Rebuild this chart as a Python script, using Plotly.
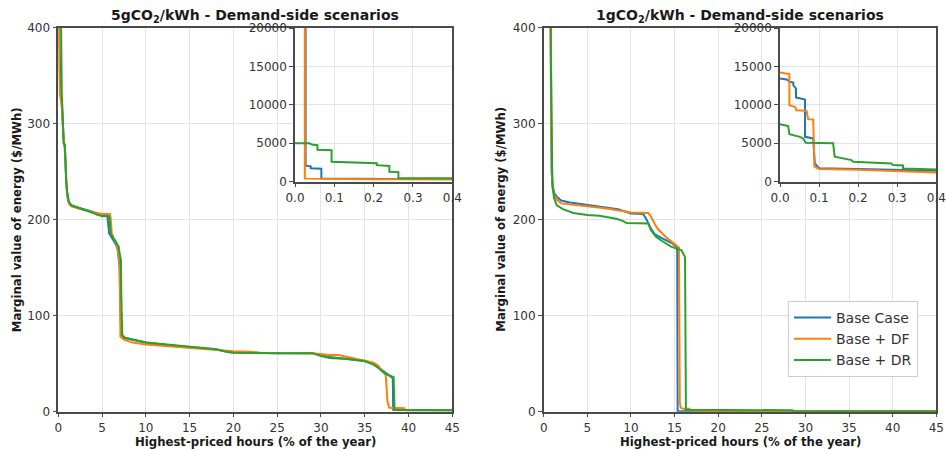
import plotly.graph_objects as go

# ---------------- data: 5 gCO2/kWh panel ----------------
l_base_x = [0, 0.027, 0.027, 0.04, 0.04, 0.067, 0.067, 0.13, 0.25, 0.4, 0.5, 0.6, 0.65, 0.75, 0.8, 0.9, 1.0, 1.1, 1.3, 1.7, 2.5, 4.0, 4.5, 5.6, 5.7, 5.8, 6.2, 6.6, 6.8, 6.9, 7.0, 7.1, 7.2, 7.5, 8.5, 10, 13, 16, 18, 19.5, 22, 25, 29, 30, 31, 33, 35, 36, 36.5, 37, 37.5, 38, 38.2, 38.25, 40, 45]
l_base_y = [30000, 30000, 2080, 2000, 1740, 1700, 420, 380, 340, 320, 300, 285, 278, 277, 262, 240, 228, 220, 216, 214, 212, 208, 205, 204, 195, 186, 180, 174, 168, 160, 150, 110, 80, 77, 75, 72, 69, 67, 65, 62, 61.5, 61, 61, 59, 57, 55, 53, 50, 47, 43, 40, 37, 35, 2, 1.5, 1.5]

l_df_x = [0, 0.025, 0.025, 0.1, 0.2, 0.4, 0.5, 0.6, 0.7, 0.8, 0.9, 1.0, 1.2, 1.5, 2.5, 4, 5, 5.9, 6.0, 6.1, 6.3, 6.7, 6.9, 7.0, 7.05, 7.1, 7.5, 8.5, 10, 13, 16, 18, 20, 22, 23, 29, 30, 31, 32, 33, 35, 36, 36.5, 37, 37.4, 37.6, 37.8, 39.5, 39.6, 45]
l_df_y = [30000, 30000, 400, 360, 330, 318, 300, 290, 280, 265, 245, 228, 217, 214, 211, 208, 206, 206, 200, 186, 181, 174, 162, 155, 110, 78, 75, 72, 70, 68, 66, 64.5, 63, 62.5, 61.5, 61, 60, 59, 59, 57, 53, 51, 48, 42, 38, 10, 4, 3.5, 1.5, 1.5]

l_dr_x = [0, 0.036, 0.045, 0.057, 0.057, 0.093, 0.093, 0.15, 0.208, 0.208, 0.24, 0.24, 0.263, 0.263, 0.33, 0.4, 0.5, 0.55, 0.6, 0.75, 0.8, 0.9, 1.0, 1.2, 1.5, 2.5, 4, 4.5, 5, 5.8, 5.9, 6.0, 6.5, 6.9, 7.0, 7.15, 7.2, 7.3, 7.6, 8.5, 10, 13, 16, 18, 19, 20, 25, 29, 30, 31, 33, 35, 36, 36.5, 37, 37.5, 38.3, 38.4, 45]
l_dr_y = [5000, 4990, 4800, 4750, 4150, 4100, 2600, 2500, 2400, 2150, 2050, 1300, 1250, 450, 380, 330, 310, 290, 280, 278, 260, 240, 230, 219, 215, 212, 207, 205, 203.5, 203.5, 195, 185, 178, 172, 165, 158, 120, 80, 77, 75, 72, 69.5, 67, 65, 63, 61.5, 61, 61, 58, 56, 55, 52.5, 49, 46, 42, 39, 36, 2, 1.5]

# ---------------- data: 1 gCO2/kWh panel ----------------
r_base_x = [0, 0.017, 0.025, 0.034, 0.034, 0.041, 0.041, 0.064, 0.064, 0.085, 0.089, 0.098, 0.1, 0.2, 0.37, 0.5, 0.6, 0.7, 0.8, 0.85, 0.9, 1.0, 1.2, 1.5, 2.0, 3.0, 5, 7, 8.5, 9.5, 10, 11.4, 11.8, 12.2, 12.7, 13.7, 14.8, 15.3, 15.35, 45]
r_base_y = [13420, 13300, 13000, 12900, 12550, 12100, 10950, 10700, 5840, 5630, 2380, 1950, 1750, 1650, 1600, 1300, 900, 600, 400, 300, 250, 238, 228, 224, 220, 218, 215.5, 213, 211, 208, 206.5, 206, 200, 192, 185, 180, 175, 171, 0.5, 0.5]

r_df_x = [0, 0.021, 0.024, 0.024, 0.038, 0.042, 0.068, 0.072, 0.085, 0.088, 0.1, 0.2, 0.37, 0.5, 0.6, 0.7, 0.8, 0.85, 0.9, 1.0, 1.2, 1.5, 2.0, 3.0, 5, 7, 9, 10, 12, 12.3, 12.7, 13.1, 14, 15, 15.5, 15.6, 15.7, 16, 16.7, 16.8, 18.6, 18.7, 45]
r_df_y = [14200, 14070, 14000, 9960, 9740, 9300, 9220, 8140, 8100, 1950, 1650, 1550, 1500, 1200, 850, 550, 380, 290, 248, 235, 226, 221, 217, 216, 214.5, 212, 209, 207.5, 207, 203, 196, 190, 182, 175, 171, 10, 4, 3, 3, 1.5, 1.2, 0.5, 0.5]

r_dr_x = [0, 0.021, 0.024, 0.051, 0.059, 0.066, 0.136, 0.14, 0.183, 0.187, 0.285, 0.289, 0.315, 0.315, 0.4, 0.5, 0.6, 0.7, 0.8, 0.9, 1.0, 1.2, 1.5, 2.2, 3.4, 5, 6.4, 8.3, 9, 9.5, 12, 12.3, 12.9, 13.7, 14.6, 15.8, 16.2, 16.3, 28.5, 28.6, 45]
r_dr_y = [7490, 7230, 6190, 5840, 5630, 5065, 5000, 3250, 2810, 2600, 2380, 2160, 2100, 1730, 1600, 1300, 900, 600, 380, 260, 235, 222, 215, 211, 207, 205, 204, 201, 199, 196.5, 196, 189, 182, 177, 172, 168, 161, 2, 1.5, 0.5, 0.5]

series_names = ["Base Case", "Base + DF", "Base + DR"]
colors = ["#1f77b4", "#ff7f0e", "#2ca02c"]
titles = ["5gCO<sub>2</sub>/kWh - Demand-side scenarios", "1gCO<sub>2</sub>/kWh - Demand-side scenarios"]
main_xticks = [0, 5, 10, 15, 20, 25, 30, 35, 40, 45]
main_yticks = [0, 100, 200, 300, 400]
inset_xticks = [0.0, 0.1, 0.2, 0.3, 0.4]
inset_yticks = [0, 5000, 10000, 15000, 20000]
x_label = "Highest-priced hours (% of the year)"
y_label = "Marginal value of energy ($/MWh)"

panels = [
    [(l_base_x, l_base_y), (l_df_x, l_df_y), (l_dr_x, l_dr_y)],
    [(r_base_x, r_base_y), (r_df_x, r_df_y), (r_dr_x, r_dr_y)],
]

W, H = 946, 450
def px(x):
    return x / W
def py(y):
    return 1 - y / H

fig = go.Figure()
# axes: 1 = left main, 2 = right main, 3 = left inset, 4 = right inset
axis_pairs = [("x", "y"), ("x2", "y2")]
inset_pairs = [("x3", "y3"), ("x4", "y4")]
for p, data in enumerate(panels):
    for i, (xs, ys) in enumerate(data):
        fig.add_trace(go.Scatter(x=xs, y=ys, mode="lines", name=series_names[i],
                                 line=dict(color=colors[i], width=2),
                                 xaxis=axis_pairs[p][0], yaxis=axis_pairs[p][1],
                                 showlegend=(p == 1), hoverinfo="skip"))
for p, data in enumerate(panels):
    for i, (xs, ys) in enumerate(data):
        fig.add_trace(go.Scatter(x=xs, y=ys, mode="lines", name=series_names[i],
                                 line=dict(color=colors[i], width=2),
                                 xaxis=inset_pairs[p][0], yaxis=inset_pairs[p][1],
                                 showlegend=False, hoverinfo="skip"))

font = "DejaVu Sans"
grid_c = "#e1e5eb"
line_c = "#4a4a4a"
tick_font = dict(family=font, size=12, color="#333333")

def ax_common(**kw):
    d = dict(showgrid=True, gridcolor=grid_c, gridwidth=1, zeroline=False,
             showline=True, mirror=True, linecolor=line_c, linewidth=1.5,
             ticks="outside", ticklen=4, tickcolor=line_c, tickwidth=1,
             tickfont=tick_font, fixedrange=True, automargin=False)
    d.update(kw)
    return d

main_y_dom = [py(411.7), py(27.7)]
inset_y_dom = [py(181.7), py(28)]
fig.update_layout(
    width=W, height=H, autosize=False,
    margin=dict(l=0, r=0, t=0, b=0, autoexpand=False),
    paper_bgcolor="white", plot_bgcolor="white",
    font=dict(family=font, color="#333333"),
    xaxis=ax_common(domain=[px(58.3), px(452.3)], range=[0, 45], tickvals=main_xticks, anchor="y"),
    yaxis=ax_common(domain=main_y_dom, range=[0, 400], tickvals=main_yticks, anchor="x"),
    xaxis2=ax_common(domain=[px(543.7), px(936.3)], range=[0, 45], tickvals=main_xticks, anchor="y2"),
    yaxis2=ax_common(domain=main_y_dom, range=[0, 400], tickvals=main_yticks, anchor="x2"),
    xaxis3=ax_common(domain=[px(295), px(452.3)], range=[0, 0.4], tickvals=inset_xticks,
                     tickformat=".1f", anchor="y3"),
    yaxis3=ax_common(domain=inset_y_dom, range=[0, 20000], tickvals=inset_yticks,
                     tickformat="d", anchor="x3"),
    xaxis4=ax_common(domain=[px(780), px(936.3)], range=[0, 0.4], tickvals=inset_xticks,
                     tickformat=".1f", anchor="y4"),
    yaxis4=ax_common(domain=inset_y_dom, range=[0, 20000], tickvals=inset_yticks,
                     tickformat="d", anchor="x4"),
    legend=dict(x=px(788), y=py(301), xanchor="left", yanchor="top",
                bgcolor="rgba(255,255,255,0.9)", bordercolor="#cccccc", borderwidth=1,
                font=dict(family=font, size=14, color="#333333"),
                tracegroupgap=0, itemwidth=37),
    showlegend=True,
)

centers = [(58.3 + 452.3) / 2, (543.7 + 936.3) / 2]
ylab_x = [16.5, 501]
for p in range(2):
    fig.add_annotation(text="<b>" + titles[p] + "</b>", x=px(centers[p]), y=py(16),
                       xref="paper", yref="paper", showarrow=False,
                       xanchor="center", yanchor="middle",
                       font=dict(family=font, size=14, color="#1a1a1a"))
    fig.add_annotation(text="<b>" + x_label + "</b>", x=px(centers[p]), y=py(441.5),
                       xref="paper", yref="paper", showarrow=False,
                       xanchor="center", yanchor="middle",
                       font=dict(family=font, size=11.7, color="#1a1a1a"))
    fig.add_annotation(text="<b>" + y_label + "</b>", x=px(ylab_x[p]), y=py(219.7),
                       xref="paper", yref="paper", showarrow=False, textangle=-90,
                       xanchor="center", yanchor="middle",
                       font=dict(family=font, size=11.7, color="#1a1a1a"))

fig.write_html("out.html", config={"responsive": False},
               post_script="document.body.style.margin='0';document.body.style.padding='0';")
